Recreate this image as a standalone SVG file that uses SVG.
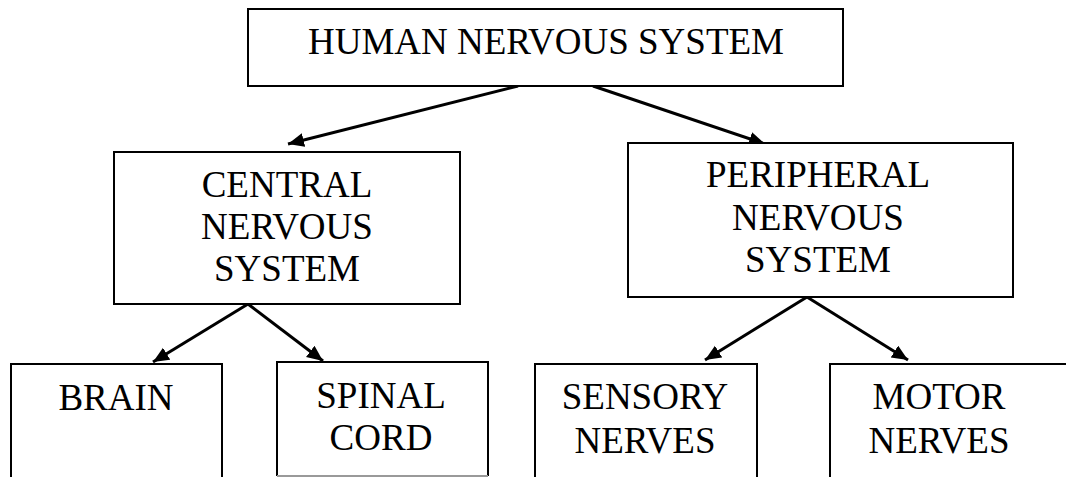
<svg xmlns="http://www.w3.org/2000/svg" width="1066" height="477" viewBox="0 0 1066 477">
<style>
.box{fill:#fff;stroke:#000;stroke-width:2}
.lbl{font-family:"Liberation Serif","Times New Roman",serif;font-size:37px;fill:#000;text-anchor:middle}
.edge{stroke:#000;stroke-width:3;fill:none;marker-end:url(#ah)}
</style>
<defs>
<marker id="ah" markerUnits="userSpaceOnUse" markerWidth="18" markerHeight="16" refX="16" refY="7" orient="auto">
<path d="M0,0 L16,7 L0,14 Z" fill="#000"/>
</marker>
</defs>
<rect width="1066" height="477" fill="#fff"/>
<g id="connectors">
<line class="edge" x1="518" y1="86" x2="288" y2="144"/>
<line class="edge" x1="593" y1="86" x2="765" y2="144"/>
<line class="edge" x1="248" y1="304" x2="153" y2="362"/>
<line class="edge" x1="248" y1="304" x2="323" y2="361"/>
<line class="edge" x1="807" y1="297" x2="705" y2="360"/>
<line class="edge" x1="807" y1="297" x2="908" y2="360"/>
</g>
<g id="human">
<rect class="box" x="248" y="9" width="595" height="77"/>
<text class="lbl" x="546" y="54">HUMAN NERVOUS SYSTEM</text>
</g>
<g id="cns">
<rect class="box" x="114" y="152" width="346" height="152"/>
<text class="lbl" x="287" y="197">CENTRAL</text>
<text class="lbl" x="287" y="239">NERVOUS</text>
<text class="lbl" x="287" y="281">SYSTEM</text>
</g>
<g id="pns">
<rect class="box" x="628" y="143" width="385" height="154"/>
<text class="lbl" x="818" y="187">PERIPHERAL</text>
<text class="lbl" x="818" y="230">NERVOUS</text>
<text class="lbl" x="818" y="272">SYSTEM</text>
</g>
<g id="brain">
<rect class="box" x="11" y="364" width="211" height="130"/>
<text class="lbl" x="116" y="410">BRAIN</text>
</g>
<g id="spinal">
<path class="box" d="M277,476 V362 H488 V476"/>
<line x1="277" y1="476" x2="488" y2="476" stroke="#999" stroke-width="2"/>
<text class="lbl" x="381" y="408">SPINAL</text>
<text class="lbl" x="381" y="450">CORD</text>
</g>
<g id="sensory">
<rect class="box" x="535" y="364" width="222" height="130"/>
<text class="lbl" x="645" y="409">SENSORY</text>
<text class="lbl" x="645" y="453">NERVES</text>
</g>
<g id="motor">
<rect class="box" x="830" y="364" width="260" height="130"/>
<text class="lbl" x="939" y="409">MOTOR</text>
<text class="lbl" x="939" y="453">NERVES</text>
</g>
</svg>
